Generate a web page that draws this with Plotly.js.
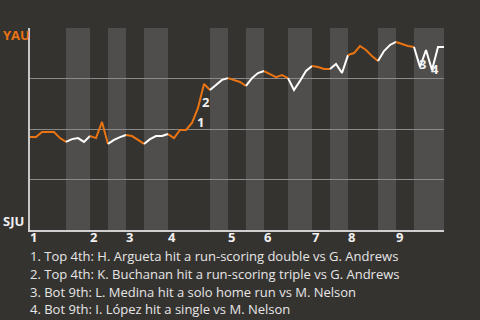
<!DOCTYPE html>
<html>
<head>
<meta charset="utf-8">
<script src="https://cdn.plot.ly/plotly-3.0.1.min.js"></script>
<style>html,body{margin:0;padding:0;background:#353330;}#chart{width:480px;height:320px;}</style>
</head>
<body>
<div id="chart"></div>
<script>
// Win probability for YAU after each plate appearance (index = plate appearance number)
const winProb = [
  0.460, 0.460, 0.485, 0.485, 0.485, 0.455, 0.436, 0.450, 0.455, 0.436,
  0.465, 0.455, 0.535, 0.426, 0.446, 0.460, 0.470, 0.465, 0.446, 0.426,
  0.450, 0.465, 0.465, 0.475, 0.455, 0.495, 0.495, 0.530, 0.604, 0.723,
  0.693, 0.718, 0.743, 0.752, 0.743, 0.733, 0.713, 0.752, 0.777, 0.787,
  0.772, 0.757, 0.767, 0.752, 0.693, 0.738, 0.787, 0.812, 0.807, 0.797,
  0.797, 0.822, 0.777, 0.866, 0.876, 0.911, 0.891, 0.861, 0.837, 0.886,
  0.916, 0.931, 0.921, 0.911, 0.906, 0.807, 0.891, 0.792, 0.906, 0.906
];
// Plate-appearance index where each half inning starts (last value = end of game)
const halfBounds = [0, 6, 10, 13, 16, 19, 23, 30, 33, 36, 39, 43, 47, 50, 53, 58, 61, 64, 69];
const inningLabels = ["1", "2", "3", "4", "5", "6", "7", "8", "9"];
const eventIndex = [28, 29, 65, 67];
const eventLabels = ["1", "2", "3", "4"];
const eventTexts = [
  "1. Top 4th: H. Argueta hit a run-scoring double vs G. Andrews",
  "2. Top 4th: K. Buchanan hit a run-scoring triple vs G. Andrews",
  "3. Bot 9th: L. Medina hit a solo home run vs M. Nelson",
  "4. Bot 9th: I. López hit a single vs M. Nelson"
];
const awayTeam = "YAU";
const homeTeam = "SJU";

const ORANGE = "#ea7411";
const WHITE = "#ffffff";
const FONT = "Open Sans, Noto Sans, sans-serif";

const traces = [];
for (let h = 0; h < halfBounds.length - 1; h++) {
  const a = halfBounds[h], b = halfBounds[h + 1];
  const xs = [], ys = [];
  for (let i = a; i <= b; i++) { xs.push(i); ys.push(winProb[i]); }
  traces.push({
    x: xs, y: ys, type: "scatter", mode: "lines",
    line: {color: h % 2 === 0 ? ORANGE : WHITE, width: 2},
    hoverinfo: "skip", showlegend: false
  });
}

const shapes = [];
for (let h = 1; h < halfBounds.length - 1; h += 2) {
  shapes.push({
    type: "rect", xref: "x", yref: "paper",
    x0: halfBounds[h], x1: halfBounds[h + 1], y0: 0, y1: 1,
    fillcolor: "#4f4e4c", line: {width: 0}, layer: "below"
  });
}

const annotations = [];
inningLabels.forEach((t, i) => {
  annotations.push({
    text: "<b>" + t + "</b>", xref: "x", yref: "paper",
    x: halfBounds[i * 2], y: 0, xanchor: "left", yanchor: "top",
    xshift: -1, yshift: 3, showarrow: false, borderpad: 0,
    font: {family: FONT, size: 13, color: "#f0f0f0"}
  });
});
const evShift = [[2, -14], [2, -18], [2, 3], [3, 1]];
eventIndex.forEach((k, i) => {
  annotations.push({
    text: "<b>" + eventLabels[i] + "</b>", xref: "x", yref: "y",
    x: k, y: winProb[k], xanchor: "center", yanchor: "middle",
    xshift: evShift[i][0], yshift: evShift[i][1], showarrow: false,
    font: {family: FONT, size: 13, color: "#f0f0f0"}
  });
});
eventTexts.forEach((t, i) => {
  annotations.push({
    text: t, xref: "paper", yref: "paper",
    x: 0, y: -(26 + i * 17.8) / 202, xanchor: "left", yanchor: "middle",
    xshift: -1, showarrow: false, borderpad: 0,
    font: {family: FONT, size: 13, color: "#e6e6e6"}
  });
});
annotations.push({
  text: "<b>" + awayTeam + "</b>", xref: "paper", yref: "paper",
  x: -28 / 414, y: 1 - 7 / 202, xanchor: "left", yanchor: "middle",
  showarrow: false, borderpad: 0, font: {family: FONT, size: 13, color: ORANGE}
});
annotations.push({
  text: "<b>" + homeTeam + "</b>", xref: "paper", yref: "paper",
  x: -28 / 414, y: 9 / 202, xanchor: "left", yanchor: "middle",
  showarrow: false, borderpad: 0, font: {family: FONT, size: 13, color: "#f0f0f0"}
});

const layout = {
  width: 480, height: 320,
  margin: {l: 30, r: 36, t: 28, b: 90},
  paper_bgcolor: "#353330", plot_bgcolor: "rgba(0,0,0,0)",
  showlegend: false,
  xaxis: {
    range: [0, 69], showgrid: false, zeroline: false,
    showline: true, linecolor: "#d0d0d0", linewidth: 2,
    showticklabels: false, ticks: "", fixedrange: true
  },
  yaxis: {
    range: [0, 1], tickvals: [0.25, 0.5, 0.75, 1],
    showgrid: true, gridcolor: "#8a8a8a", gridwidth: 1,
    zeroline: false, showline: true, linecolor: "#c8c8c8", linewidth: 2,
    showticklabels: false, ticks: "", fixedrange: true
  },
  shapes: shapes,
  annotations: annotations
};

Plotly.newPlot("chart", traces, layout, {displayModeBar: false, staticPlot: true});
</script>
</body>
</html>
